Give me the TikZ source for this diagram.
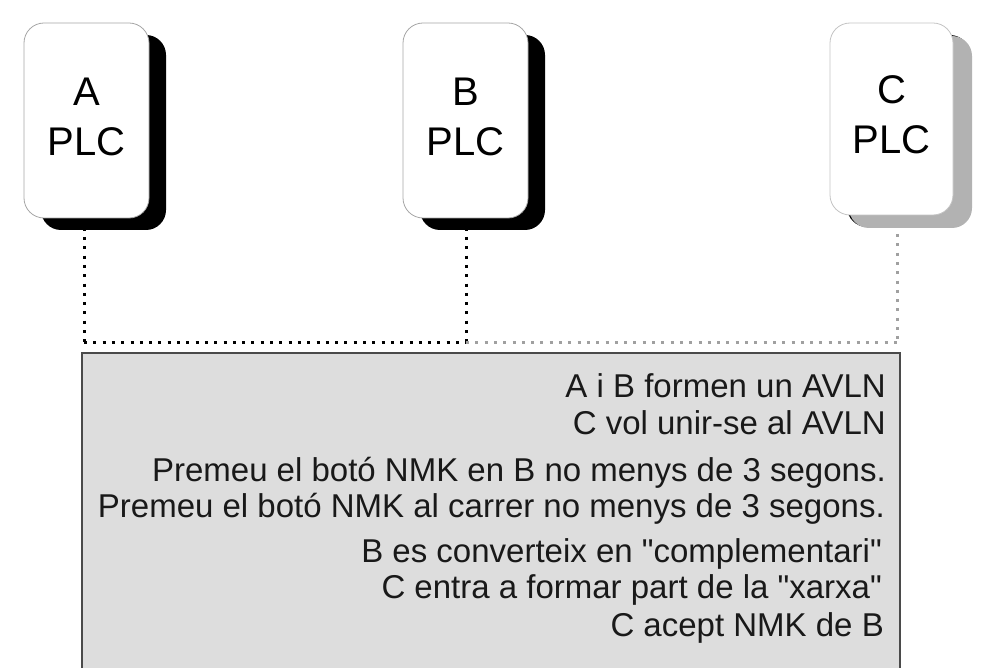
\documentclass[tikz,border=0pt]{standalone}
\usepackage{fontspec}
\setmainfont{Liberation Sans}
\newfontfamily\msgfont{Liberation Sans}
\usetikzlibrary{shadows,backgrounds}
\definecolor{panelfill}{HTML}{DDDDDD}
\definecolor{panelline}{HTML}{4A4A4A}
\definecolor{lightdev}{HTML}{C4C4C4}
\definecolor{lightshadow}{HTML}{B2B2B2}
\definecolor{dotgray}{HTML}{A0A0A0}
\newcommand{\devlabel}[2]{\raisebox{2pt}{\begin{tabular}{@{}c@{}}#1\\#2\end{tabular}}}
\tikzset{
  x=1pt, y=-1pt,
  device/.style={draw=gray!70, line width=0.8pt, fill=white, rounded corners=20pt,
    minimum width=125pt, minimum height=195pt, inner sep=0pt, align=center,
    font=\fontsize{40}{50}\selectfont,
    general shadow={shadow xshift=17pt, shadow yshift=-12pt, fill=black}},
  lightdevice/.style={device, draw=lightdev,
    general shadow={shadow xshift=19pt, shadow yshift=-13pt, fill=lightshadow}},
  link/.style={line width=3pt, dash pattern=on 3pt off 6.3pt},
  linkgray/.style={link, draw=dotgray},
  panel/.style={draw=panelline, line width=1.4pt, fill=panelfill},
  msg/.style={anchor=base east, inner sep=0pt, font=\msgfont\fontsize{33}{40}\selectfont, text=black!90}
}
\begin{document}
\begin{tikzpicture}
\useasboundingbox (0,0) rectangle (984,668);
\node[device] (A) at (86.5,120.5) {\devlabel{A}{PLC}};
\node[device] (B) at (465.5,120.5) {\devlabel{B}{PLC}};
\node[lightdevice, minimum width=123pt, minimum height=192pt] (C) at (891.5,119) {\devlabel{C}{PLC}};
\coordinate (jA) at (84,342);
\coordinate (jB) at (466,342);
\coordinate (jC) at (897,342);
\begin{scope}[on background layer]
\draw[link] (jA |- A.south) -- (jA);
\draw[link] (jB |- B.south) -- (jB);
\draw[linkgray] (jC |- C.south) -- (jC);
\end{scope}
\draw[link] (jA) -- (jB);
\draw[linkgray] (jB) -- (jC);
\path[panel] (82,353) rectangle (900,690);
\node[msg] (m1) at (886,397) {A i B formen un AVLN};
\node[msg] (m2) at (886,434) {C vol unir-se al AVLN};
\node[msg] (m3) at (886,481) {Premeu el botó NMK en B no menys de 3 segons.};
\node[msg] (m4) at (885,517) {Premeu el botó NMK al carrer no menys de 3 segons.};
\node[msg] (m5) at (882,562) {B es converteix en "complementari"};
\node[msg] (m6) at (882,598) {C entra a formar part de la "xarxa"};
\node[msg] (m7) at (884,636) {C acept NMK de B};
\end{tikzpicture}
\end{document}
